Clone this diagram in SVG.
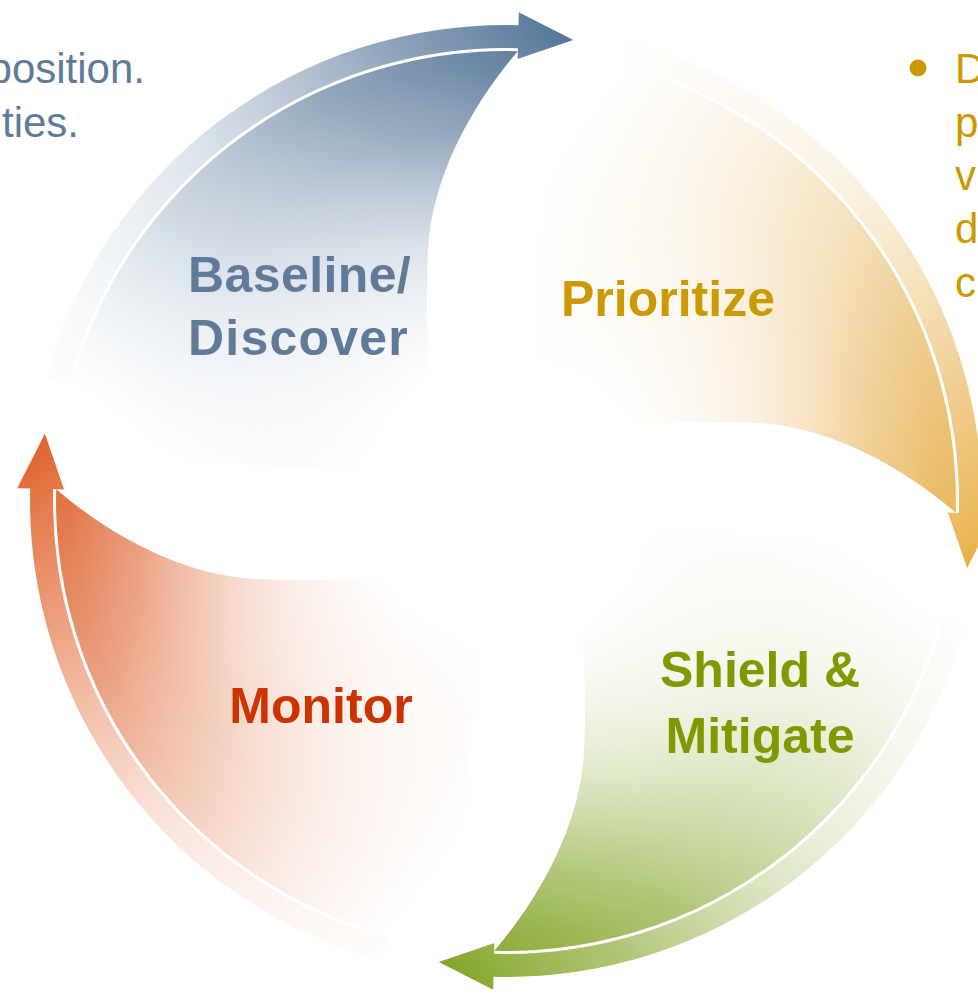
<svg xmlns="http://www.w3.org/2000/svg" xmlns:xlink="http://www.w3.org/1999/xlink" width="978" height="995" viewBox="0 0 978 995">
  <style>
    .label { font-family: "Liberation Sans", Arial, sans-serif; font-weight: bold; font-size: 50px; }
    .note  { font-family: "Liberation Sans", Arial, sans-serif; font-size: 42px; }
    .blue   { fill: #5f7b99; }
    .gold   { fill: #cc9900; }
    .olive  { fill: #7f9900; }
    .rust   { fill: #cc3300; }
  </style>
  <defs>
    <!-- One blade of the cycle, drawn in the upper-left quadrant; the others are rotations about the centre (506,501) -->
    <path id="blade-body" d="M 60.4,438.4 A 450 450 0 0 1 517.8,51.2 C 480,95 432,170 428,250 C 424,330 432,420 440,470 C 330,475 150,460 60.4,438.4 Z"/>
    <path id="blade-arrow" d="M 46.2,377.8 A 476 476 0 0 1 518.5,25.2 L 518.8,12.2 L 573.3,39.9 L 517.6,59.1 L 517.9,48.2 A 453 453 0 0 0 68.4,383.8 Z"/>

    <!-- fade the blades out towards the centre of the wheel -->
    <radialGradient id="centre-fade" gradientUnits="userSpaceOnUse" cx="506" cy="501" r="480">
      <stop offset="0" stop-color="#000"/>
      <stop offset="0.3" stop-color="#000"/>
      <stop offset="0.55" stop-color="#6a6a6a"/>
      <stop offset="0.78" stop-color="#e0e0e0"/>
      <stop offset="0.9" stop-color="#fff"/>
    </radialGradient>
    <mask id="centre-mask" maskUnits="userSpaceOnUse" x="-200" y="-200" width="1400" height="1400">
      <rect x="-200" y="-200" width="1400" height="1400" fill="url(#centre-fade)"/>
    </mask>

    <!-- body gradients (blade-local coordinates) -->
    <linearGradient id="body-blue" gradientUnits="userSpaceOnUse" x1="525" y1="30" x2="190" y2="470">
      <stop offset="0" stop-color="#5b7a9a" stop-opacity="1"/>
      <stop offset="0.3" stop-color="#708ca8" stop-opacity="0.78"/>
      <stop offset="0.65" stop-color="#90a6bd" stop-opacity="0.42"/>
      <stop offset="1" stop-color="#b5c4d3" stop-opacity="0"/>
    </linearGradient>
    <linearGradient id="body-gold" gradientUnits="userSpaceOnUse" x1="525" y1="30" x2="190" y2="470">
      <stop offset="0" stop-color="#e8b455" stop-opacity="1"/>
      <stop offset="0.3" stop-color="#ebbf72" stop-opacity="0.78"/>
      <stop offset="0.65" stop-color="#f0d29a" stop-opacity="0.42"/>
      <stop offset="1" stop-color="#f6e3bf" stop-opacity="0"/>
    </linearGradient>
    <linearGradient id="body-green" gradientUnits="userSpaceOnUse" x1="525" y1="30" x2="190" y2="470">
      <stop offset="0" stop-color="#88a830" stop-opacity="1"/>
      <stop offset="0.3" stop-color="#9bb651" stop-opacity="0.78"/>
      <stop offset="0.65" stop-color="#b7ca82" stop-opacity="0.42"/>
      <stop offset="1" stop-color="#d6e0b5" stop-opacity="0"/>
    </linearGradient>
    <linearGradient id="body-orange" gradientUnits="userSpaceOnUse" x1="525" y1="30" x2="190" y2="470">
      <stop offset="0" stop-color="#e06935" stop-opacity="1"/>
      <stop offset="0.3" stop-color="#e5835a" stop-opacity="0.78"/>
      <stop offset="0.65" stop-color="#eca585" stop-opacity="0.42"/>
      <stop offset="1" stop-color="#f4cbb8" stop-opacity="0"/>
    </linearGradient>

    <!-- arrow shaft gradients -->
    <linearGradient id="shaft-blue" gradientUnits="userSpaceOnUse" x1="560" y1="30" x2="60" y2="380">
      <stop offset="0" stop-color="#56779a" stop-opacity="1"/>
      <stop offset="0.25" stop-color="#6a87a6" stop-opacity="0.75"/>
      <stop offset="0.6" stop-color="#9bb0c4" stop-opacity="0.35"/>
      <stop offset="1" stop-color="#c8d4df" stop-opacity="0.05"/>
    </linearGradient>
    <linearGradient id="shaft-gold" gradientUnits="userSpaceOnUse" x1="560" y1="30" x2="60" y2="380">
      <stop offset="0" stop-color="#e9b24c" stop-opacity="1"/>
      <stop offset="0.25" stop-color="#ecbf6e" stop-opacity="0.75"/>
      <stop offset="0.6" stop-color="#f2d6a2" stop-opacity="0.35"/>
      <stop offset="1" stop-color="#f8e8cc" stop-opacity="0.05"/>
    </linearGradient>
    <linearGradient id="shaft-green" gradientUnits="userSpaceOnUse" x1="560" y1="30" x2="60" y2="380">
      <stop offset="0" stop-color="#84a62a" stop-opacity="1"/>
      <stop offset="0.25" stop-color="#98b44c" stop-opacity="0.75"/>
      <stop offset="0.6" stop-color="#bccd8a" stop-opacity="0.35"/>
      <stop offset="1" stop-color="#dde6c0" stop-opacity="0.05"/>
    </linearGradient>
    <linearGradient id="shaft-orange" gradientUnits="userSpaceOnUse" x1="560" y1="30" x2="60" y2="380">
      <stop offset="0" stop-color="#e0652e" stop-opacity="1"/>
      <stop offset="0.25" stop-color="#e67f52" stop-opacity="0.75"/>
      <stop offset="0.6" stop-color="#eeaa8a" stop-opacity="0.35"/>
      <stop offset="1" stop-color="#f6d2c2" stop-opacity="0.05"/>
    </linearGradient>
  </defs>

  <rect width="978" height="995" fill="#ffffff"/>

  <!-- side notes, cut by the edge of the frame -->
  <g id="note-left">
    <text class="note blue" x="145" y="83" text-anchor="end">position.</text>
    <text class="note blue" x="79" y="137" text-anchor="end">ties.</text>
  </g>
  <g id="note-right">
    <circle cx="918" cy="68" r="8.5" fill="#cc9900"/>
    <text class="note gold" x="955" y="83">D</text>
    <text class="note gold" x="955" y="137">p</text>
    <text class="note gold" x="955" y="190">v</text>
    <text class="note gold" x="955" y="243">d</text>
    <text class="note gold" x="955" y="297">c</text>
  </g>

  <!-- the four stages -->
  <g id="node-baseline">
    <g mask="url(#centre-mask)">
      <use xlink:href="#blade-body" fill="url(#body-blue)"/>
    </g>
    <text class="label blue" x="188" y="292" letter-spacing="0.4">Baseline/</text>
    <text class="label blue" x="188" y="355" letter-spacing="1.2">Discover</text>
  </g>

  <g id="node-prioritize">
    <g transform="rotate(90 506 501)" mask="url(#centre-mask)">
      <use xlink:href="#blade-body" fill="url(#body-gold)"/>
    </g>
    <text class="label gold" x="668" y="316" text-anchor="middle">Prioritize</text>
  </g>

  <g id="node-shield">
    <g transform="rotate(180 506 501)" mask="url(#centre-mask)">
      <use xlink:href="#blade-body" fill="url(#body-green)"/>
    </g>
    <text class="label olive" x="760" y="687" text-anchor="middle">Shield &amp;</text>
    <text class="label olive" x="760" y="753" text-anchor="middle">Mitigate</text>
  </g>

  <g id="node-monitor">
    <g transform="rotate(270 506 501)" mask="url(#centre-mask)">
      <use xlink:href="#blade-body" fill="url(#body-orange)"/>
    </g>
    <text class="label rust" x="321" y="723" text-anchor="middle">Monitor</text>
  </g>

  <!-- curved arrows running clockwise round the rim -->
  <g id="connectors">
    <use xlink:href="#blade-arrow" fill="url(#shaft-blue)"/>
    <use xlink:href="#blade-arrow" fill="url(#shaft-gold)" transform="rotate(90 506 501)"/>
    <use xlink:href="#blade-arrow" fill="url(#shaft-green)" transform="rotate(180 506 501)"/>
    <use xlink:href="#blade-arrow" fill="url(#shaft-orange)" transform="rotate(270 506 501)"/>
  </g>
</svg>
